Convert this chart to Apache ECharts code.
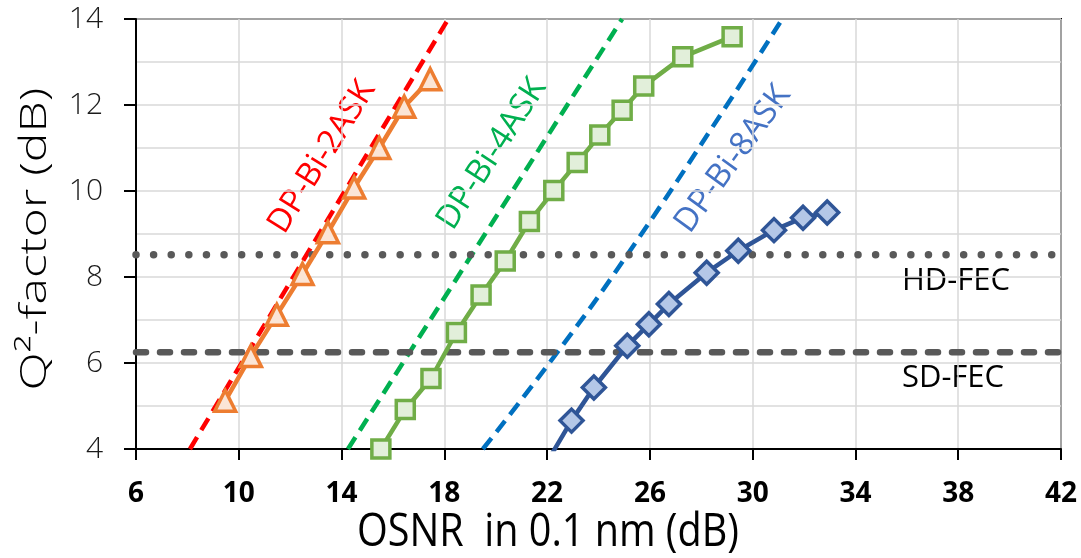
<!DOCTYPE html>
<html>
<head>
<meta charset="utf-8">
<script src="https://cdn.jsdelivr.net/npm/echarts@6/dist/echarts.min.js"></script>
<style>
html, body { margin: 0; padding: 0; background: #fff; }
#chart { width: 1081px; height: 558px; }
</style>
</head>
<body>
<div id="chart"></div>
<script>
// measured curves (OSNR in dB, Q^2 in dB)
const ask2Osnr = [9.47, 10.47, 11.48, 12.48, 13.47, 14.49, 15.47, 16.44, 17.45];
const ask2Q = [5.12, 6.16, 7.12, 8.07, 9.04, 10.08, 11.0, 11.96, 12.6];

const ask4Osnr = [15.53, 16.48, 17.48, 18.47, 19.43, 20.37, 21.31, 22.26, 23.17, 24.05, 24.92, 25.76, 27.28, 29.2];
const ask4Q = [4.0, 4.92, 5.64, 6.71, 7.58, 8.37, 9.29, 10.01, 10.66, 11.3, 11.88, 12.44, 13.12, 13.59];

const ask8Osnr = [22.0, 22.95, 23.82, 25.12, 25.96, 26.74, 28.21, 29.44, 30.83, 31.96, 32.9];
const ask8Q = [3.7, 4.66, 5.43, 6.4, 6.9, 7.37, 8.1, 8.61, 9.09, 9.38, 9.5];

// theory curves
const ask2TheoryOsnr = [8.1, 18.15];
const ask2TheoryQ = [4, 14];
const ask4TheoryOsnr = [14.25, 24.92];
const ask4TheoryQ = [4, 14];
const ask8TheoryOsnr = [19.5, 22.4, 25.1, 29.0, 31.15];
const ask8TheoryQ = [4, 6.25, 8.5, 12, 14];

// FEC thresholds
const fecOsnrSpan = [6, 42];
const hdFecQ = 8.52;
const sdFecQ = 6.25;

const pairs = (xs, ys) => xs.map((x, i) => [x, ys[i]]);

const chart = echarts.init(document.getElementById('chart'));
const font = 'Open Sans';

const theory = (data, color) => ({
  type: 'line',
  data: data,
  symbol: 'none',
  smooth: true,
  z: 2,
  lineStyle: { color: color, width: 4.5, type: [14, 8] },
  silent: true
});

const measured = (data, color, fill, symbol, size) => ({
  type: 'line',
  data: data,
  symbol: symbol,
  symbolSize: size,
  z: 4,
  lineStyle: { color: color, width: 4.5 },
  itemStyle: { color: fill, borderColor: color, borderWidth: 3.5 }
});

const option = {
  backgroundColor: '#fff',
  animation: false,
  grid: {
    left: 136, right: 20, top: 19, bottom: 109,
    show: true, borderColor: '#000', borderWidth: 2
  },
  xAxis: {
    type: 'value',
    min: 6, max: 42, interval: 4,
    axisLine: { lineStyle: { color: '#000', width: 2 } },
    axisTick: { show: true, length: 11, lineStyle: { color: '#000', width: 2 } },
    splitLine: { show: true, lineStyle: { color: '#d9d9d9', width: 1.5 } },
    axisLabel: { fontSize: 28, fontWeight: 'bold', color: '#000', margin: 31, fontFamily: font }
  },
  yAxis: {
    type: 'value',
    min: 4, max: 14, interval: 2,
    axisLine: { show: true, lineStyle: { color: '#000', width: 2 } },
    axisTick: { show: true, length: 12, lineStyle: { color: '#000', width: 2 } },
    minorTick: { show: false, splitNumber: 2 },
    splitLine: { show: true, lineStyle: { color: '#d9d9d9', width: 1.5 } },
    minorSplitLine: { show: true, lineStyle: { color: '#d9d9d9', width: 1.5 } },
    axisLabel: { fontSize: 30, fontWeight: 300, color: '#1a1a1a', margin: 33, fontFamily: font }
  },
  series: [
    theory(pairs(ask2TheoryOsnr, ask2TheoryQ), '#ff0000'),
    theory(pairs(ask4TheoryOsnr, ask4TheoryQ), '#00b050'),
    theory(pairs(ask8TheoryOsnr, ask8TheoryQ), '#0070c0'),
    {
      type: 'line', symbol: 'none', z: 3, silent: true,
      data: fecOsnrSpan.map(x => [x, hdFecQ]),
      lineStyle: { color: '#595959', width: 7.5, type: [0.01, 17.6], cap: 'round' }
    },
    {
      type: 'line', symbol: 'none', z: 3, silent: true,
      data: fecOsnrSpan.map(x => [x, sdFecQ]),
      lineStyle: { color: '#595959', width: 6.5, type: [10, 14], cap: 'round' }
    },
    measured(pairs(ask2Osnr, ask2Q), '#ed7d31', '#fbe5d6', 'triangle', 21),
    measured(pairs(ask4Osnr, ask4Q), '#70ad47', '#e2efda', 'rect', 18),
    measured(pairs(ask8Osnr, ask8Q), '#2f5597', '#b4c7e7', 'diamond', 23)
  ],
  graphic: [
    { type: 'text', x: 322, y: 157, rotation: 58 * Math.PI / 180,
      style: { text: 'DP-Bi-2ASK', fill: '#ff0000', font: '33px "Open Sans"', align: 'center', verticalAlign: 'middle' } },
    { type: 'text', x: 492, y: 154, rotation: 57 * Math.PI / 180,
      style: { text: 'DP-Bi-4ASK', fill: '#00b050', font: '33px "Open Sans"', align: 'center', verticalAlign: 'middle' } },
    { type: 'text', x: 733, y: 159, rotation: 54 * Math.PI / 180,
      style: { text: 'DP-Bi-8ASK', fill: '#4472c4', font: '33px "Open Sans"', align: 'center', verticalAlign: 'middle' } },
    { type: 'text', x: 956, y: 281,
      style: { text: 'HD-FEC', fill: '#000', font: '500 31px "Open Sans"', align: 'center', verticalAlign: 'middle' } },
    { type: 'text', x: 953, y: 378,
      style: { text: 'SD-FEC', fill: '#000', font: '500 31px "Open Sans"', align: 'center', verticalAlign: 'middle' } },
    { type: 'text', x: 35, y: 239, rotation: Math.PI / 2, scaleX: 1.35,
      style: { text: 'Q²-factor (dB)', fill: '#000', font: '300 37px "Open Sans"', align: 'center', verticalAlign: 'middle' } },
    { type: 'text', x: 548, y: 533, scaleX: 0.86,
      style: { text: 'OSNR  in 0.1 nm (dB)', fill: '#000', font: '46px "Open Sans"', align: 'center', verticalAlign: 'middle' } }
  ]
};

chart.setOption(option);
</script>
</body>
</html>
